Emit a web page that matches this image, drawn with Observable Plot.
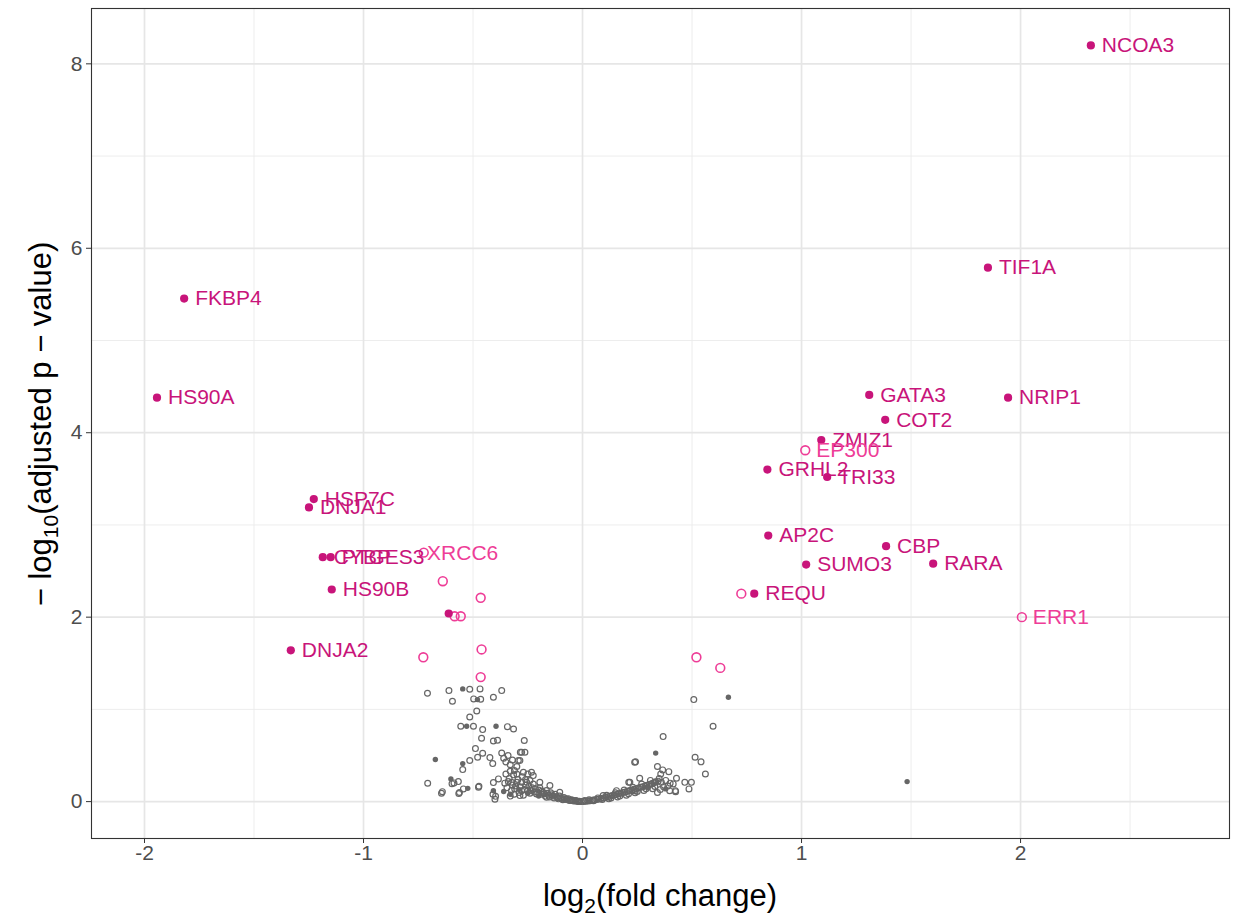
<!DOCTYPE html>
<html><head><meta charset="utf-8">
<script src="https://cdn.jsdelivr.net/npm/d3@7"></script>
<script src="https://cdn.jsdelivr.net/npm/@observablehq/plot@0.6"></script>
<style>html,body{margin:0;padding:0;background:#fff;}#chart{width:1238px;height:920px;}</style>
</head><body><div id="chart"></div>
<script>
// ---- data ----
// significant, filled, labelled proteins
const sigNames = ["NCOA3","TIF1A","FKBP4","HS90A","GATA3","NRIP1","COT2","ZMIZ1","GRHL2","TRI33","HSP7C","DNJA1","AP2C","CBP","SUMO3","RARA","CYBP","PTGES3","HS90B","REQU","DNJA2"];
const sigLogFC = [2.321,1.851,-1.819,-1.943,1.309,1.943,1.382,1.090,0.844,1.117,-1.227,-1.249,0.848,1.386,1.021,1.601,-1.186,-1.150,-1.145,0.784,-1.332];
const sigLogP  = [8.20,5.79,5.455,4.38,4.41,4.38,4.14,3.92,3.60,3.52,3.28,3.19,2.885,2.77,2.57,2.58,2.65,2.65,2.30,2.255,1.64];
// significant, filled, unlabelled
const sigOtherFC = [-0.611];
const sigOtherP  = [2.04];
// open (pink) labelled
const openNames = ["EP300","XRCC6","ERR1"];
const openLabFC = [1.017,-0.760,2.006];
const openLabP  = [3.81,2.69,2.00];
// open (pink) unlabelled
const openFC = [0.725,-0.638,-0.465,-0.584,-0.556,-0.727,-0.461,-0.465,0.520,0.629,-0.725];
const openP  = [2.255,2.39,2.21,2.01,2.01,1.565,1.65,1.35,1.565,1.45,2.70];
// non-significant, grey open points [log2FC, -log10 p]
const greyOpen = [
 [-0.708,1.175],[-0.610,1.204],[-0.594,1.088],[-0.515,1.218],[-0.468,1.222],[-0.497,1.114],[-0.465,1.110],[-0.407,1.131],[-0.369,1.204],
 [-0.483,0.983],[-0.515,0.918],[-0.556,0.817],[-0.498,0.817],[-0.456,0.781],[-0.343,0.813],[-0.315,0.788],[-0.461,0.687],[-0.407,0.658],
 [-0.388,0.665],[-0.489,0.575],[-0.456,0.524],[-0.479,0.481],[-0.423,0.477],[-0.410,0.412],[-0.515,0.445],[-0.547,0.347],[-0.369,0.526],
 [-0.360,0.470],[-0.350,0.430],[-0.330,0.400],[-0.340,0.500],[-0.320,0.450],[-0.266,0.662],[-0.284,0.535],[-0.263,0.535],[-0.293,0.445],
 [-0.311,0.336],[-0.300,0.380],[-0.587,0.203],[-0.567,0.217],[-0.707,0.199],[-0.640,0.108],[-0.562,0.098],[-0.544,0.138],[-0.473,0.166],
 [-0.407,0.206],[-0.397,0.057],[-0.384,0.246],[-0.339,0.217],[-0.324,0.210],[-0.300,0.210],[-0.278,0.210],[-0.644,0.091],[-0.596,0.195],
 [-0.565,0.087],[-0.475,0.157],[-0.409,0.080],[-0.400,0.026],[-0.312,0.080],[-0.350,0.300],[-0.330,0.330],[-0.278,0.535],[-0.286,0.445],
 [-0.270,0.318],[-0.233,0.318],[-0.225,0.282],[-0.240,0.228],[-0.195,0.209],[-0.149,0.174],[-0.104,0.101],[-0.278,0.119],[-0.286,0.065],
 [-0.210,0.083],[-0.164,0.047],[-0.073,0.029],[-0.014,0.000],[-0.355,0.200],[-0.345,0.150],[-0.335,0.250],[-0.325,0.120],[-0.315,0.290],
 [-0.305,0.170],[-0.295,0.240],[-0.285,0.160],[-0.275,0.270],[-0.265,0.130],[-0.255,0.210],[-0.245,0.170],[-0.235,0.120],[-0.225,0.190],
 [-0.215,0.140],[-0.205,0.100],[-0.195,0.150],[-0.185,0.115],[-0.175,0.085],[-0.165,0.120],[-0.155,0.070],[-0.145,0.095],[-0.135,0.060],
 [-0.125,0.080],[-0.115,0.045],[-0.105,0.060],[-0.095,0.035],[-0.085,0.045],[-0.075,0.022],[-0.065,0.030],[-0.055,0.015],[-0.045,0.012],
 [-0.035,0.008],[-0.025,0.005],[-0.015,0.003],[-0.005,0.001],[-0.330,0.060],[-0.320,0.180],[-0.290,0.100],[-0.270,0.070],[-0.260,0.180],
 [-0.250,0.120],[-0.240,0.090],[-0.230,0.150],[-0.220,0.105],[-0.200,0.125],[-0.190,0.080],[-0.180,0.100],[-0.170,0.060],[-0.160,0.090],
 [-0.150,0.050],[-0.140,0.075],[-0.130,0.040],[-0.120,0.055],[-0.110,0.030],[-0.100,0.040],[-0.090,0.020],[-0.080,0.030],[-0.060,0.012],
 [-0.050,0.020],[-0.040,0.006],[-0.030,0.012],[-0.020,0.002],[-0.260,0.240],[-0.250,0.300],[-0.300,0.300],[-0.310,0.140],
 [0.005,0.001],[0.015,0.003],[0.025,0.006],[0.035,0.010],[0.045,0.012],[0.055,0.018],[0.065,0.022],[0.075,0.027],[0.085,0.033],
 [0.095,0.040],[0.105,0.045],[0.115,0.052],[0.125,0.058],[0.135,0.065],[0.145,0.072],[0.155,0.078],[0.165,0.085],[0.175,0.092],
 [0.185,0.098],[0.195,0.105],[0.205,0.112],[0.215,0.120],[0.225,0.126],[0.235,0.133],[0.245,0.140],[0.255,0.148],[0.265,0.155],
 [0.275,0.162],[0.285,0.170],[0.295,0.178],[0.305,0.186],[0.315,0.195],[0.325,0.205],[0.335,0.215],[0.345,0.222],[0.010,0.012],
 [0.030,0.020],[0.050,0.008],[0.070,0.040],[0.090,0.022],[0.110,0.068],[0.130,0.040],[0.150,0.095],[0.170,0.060],[0.190,0.125],
 [0.210,0.085],[0.230,0.155],[0.250,0.110],[0.270,0.190],[0.290,0.140],[0.310,0.230],[0.330,0.165],[0.350,0.250],[0.120,0.030],
 [0.160,0.050],[0.200,0.070],[0.240,0.095],[0.280,0.120],[0.320,0.140],[0.094,0.065],[0.049,0.018],[0.155,0.119],
 [0.508,1.106],[0.596,0.817],[0.368,0.705],[0.242,0.431],[0.514,0.481],[0.541,0.431],[0.561,0.300],[0.342,0.380],[0.366,0.344],
 [0.394,0.325],[0.357,0.300],[0.261,0.253],[0.211,0.209],[0.429,0.253],[0.467,0.209],[0.497,0.209],[0.486,0.138],[0.424,0.119],
 [0.414,0.192],[0.425,0.108],[0.330,0.209],[0.360,0.209],[0.292,0.174],[0.315,0.192],[0.342,0.099],[0.398,0.119],[0.238,0.119],
 [0.238,0.426],[0.216,0.209],[0.380,0.230],[0.400,0.200],[0.370,0.160],[0.355,0.130],[0.390,0.170]
];
// non-significant, grey filled points
const greyFilled = [
 [-0.547,1.222],[-0.480,1.106],[-0.529,0.817],[-0.395,0.817],[-0.547,0.412],[-0.672,0.456],[-0.601,0.246],[-0.524,0.144],
 [-0.407,0.119],[-0.330,0.080],[-0.290,0.130],[-0.250,0.090],[-0.360,0.110],[-0.200,0.060],
 [0.666,1.131],[0.334,0.526],[0.380,0.138],[0.300,0.150],[1.482,0.217]
];
const xTicks = [-2,-1,0,1,2];
const xMinor = [-1.5,-0.5,0.5,1.5,2.5];
const yTicks = [0,2,4,6,8];
const yMinor = [1,3,5,7];

// ---- tables ----
const sig = sigNames.map((n,i)=>({name:n, fc:sigLogFC[i], p:sigLogP[i]}));
const sigOther = sigOtherFC.map((v,i)=>({fc:v, p:sigOtherP[i]}));
const openLab = openNames.map((n,i)=>({name:n, fc:openLabFC[i], p:openLabP[i]}));
const openAll = openFC.map((v,i)=>({fc:v, p:openP[i]})).concat(openLab.filter(d=>d.name!=="XRCC6"));
const gOpen = greyOpen.map(d=>({fc:d[0], p:d[1]}));
const gFill = greyFilled.map(d=>({fc:d[0], p:d[1]}));

const DARK = "#C8147A", PINK = "#EE3D97", GREY = "#666666", TICKTXT = "#4D4D4D";
const FONT = "'Liberation Sans', Arial, Helvetica, sans-serif";

const plot = Plot.plot({
  width: 1238, height: 920,
  marginLeft: 91, marginRight: 9, marginTop: 8, marginBottom: 82,
  style: {fontFamily: FONT, background: "#fff", overflow: "visible"},
  x: {domain: [-2.242, 2.954]},
  y: {domain: [-0.40, 8.60]},
  marks: [
    Plot.gridX(xMinor, {stroke: "#EBEBEB", strokeOpacity: 1, strokeWidth: 0.9}),
    Plot.gridY(yMinor, {stroke: "#EBEBEB", strokeOpacity: 1, strokeWidth: 0.9}),
    Plot.gridX(xTicks, {stroke: "#E6E6E6", strokeOpacity: 1, strokeWidth: 1.7}),
    Plot.gridY(yTicks, {stroke: "#E6E6E6", strokeOpacity: 1, strokeWidth: 1.7}),
    Plot.axisX(xTicks, {tickSize: 5, tickFormat: () => "", label: null, stroke: "#333"}),
    Plot.axisY(yTicks, {tickSize: 5, tickFormat: () => "", label: null, stroke: "#333"}),
    Plot.text(xTicks, {x: d => d, frameAnchor: "bottom", dy: 21, text: d => String(d), fontSize: 21, fill: TICKTXT}),
    Plot.text(yTicks, {y: d => d, frameAnchor: "left", dx: -9, textAnchor: "end", text: d => String(d), fontSize: 21, fill: TICKTXT}),
    Plot.dot(gOpen, {x: "fc", y: "p", r: 2.9, stroke: GREY, strokeWidth: 1.2, fill: "none"}),
    Plot.dot(gFill, {x: "fc", y: "p", r: 2.7, fill: GREY, stroke: "none"}),
    Plot.dot(openAll, {x: "fc", y: "p", r: 4.4, stroke: PINK, strokeWidth: 1.6, fill: "none"}),
    Plot.dot(sig.concat(sigOther), {x: "fc", y: "p", r: 4.1, fill: DARK, stroke: "none"}),
    Plot.text(sig, {x: "fc", y: "p", text: "name", dx: 11, textAnchor: "start", fill: DARK, fontSize: 21}),
    Plot.text(openLab, {x: "fc", y: "p", text: "name", dx: 11, textAnchor: "start", fill: PINK, fontSize: 21}),
    Plot.frame({stroke: "#333", strokeWidth: 1.1})
  ]
});
document.getElementById("chart").appendChild(plot);

const svg = d3.select(plot);
// axis titles
const xt = svg.append("text").attr("x", 660).attr("y", 906).attr("text-anchor", "middle")
  .attr("font-family", FONT).style("font-size", "31px").attr("fill", "#000");
xt.append("tspan").text("log");
xt.append("tspan").text("2").style("font-size", "21px").attr("dy", 7);
xt.append("tspan").text("(fold change)").attr("dy", -7);

const yt = svg.append("text").attr("transform", "translate(51,424) rotate(-90)").attr("text-anchor", "middle")
  .attr("font-family", FONT).style("font-size", "31px").attr("fill", "#000");
yt.append("tspan").text("\u2212 log");
yt.append("tspan").text("10").style("font-size", "21px").attr("dy", 7);
yt.append("tspan").text("(adjusted p \u2212 value)").attr("dy", -7);
</script>
</body></html>
